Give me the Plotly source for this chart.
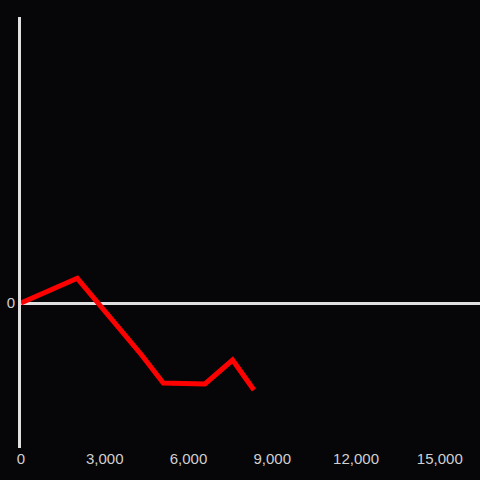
import plotly.graph_objects as go

x_vals = [0, 2016, 4320, 5096, 6588, 7578, 8342]
y_vals = [0, 24.7, -52, -80, -81, -57, -87]
x_ticks = [0, 3000, 6000, 9000, 12000, 15000]
x_tick_text = ["0", "3,000", "6,000", "9,000", "12,000", "15,000"]

fig = go.Figure()
fig.add_trace(go.Scatter(x=x_vals, y=y_vals, mode="lines",
                         line=dict(color="#ff0000", width=5)))
fig.update_layout(
    width=480, height=480,
    margin=dict(l=21, r=0, t=17, b=32),
    paper_bgcolor="#060508", plot_bgcolor="#060508",
    showlegend=False,
    font=dict(family="Liberation Sans, Arial, sans-serif", size=15, color="#d0d0d0"),
)
fig.update_xaxes(range=[0, 16440], showgrid=False, zeroline=False, showline=False,
                 tickvals=x_ticks, ticktext=x_tick_text, ticks="")
fig.update_yaxes(range=[-145, 286], showgrid=False, zeroline=True,
                 zerolinecolor="#e0e0e0", zerolinewidth=3,
                 showline=True, linecolor="#e0e0e0", linewidth=3,
                 tickvals=[0], ticktext=["0"], ticks="")
fig.write_html("out.html", config={"displayModeBar": False},
               post_script="document.body.style.margin='0';document.body.style.background='#060508';")
